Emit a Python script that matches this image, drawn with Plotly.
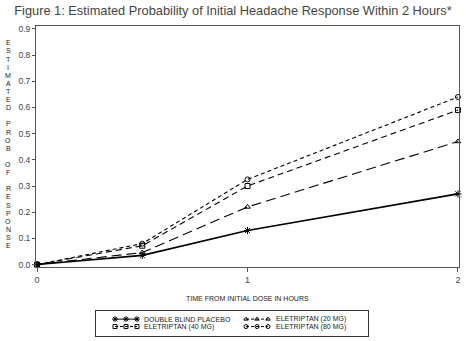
import plotly.graph_objects as go

# Hours after the initial dose and estimated response probability per arm
hours = [0, 0.5, 1, 2]
placebo = [0.0, 0.035, 0.13, 0.27]
ele_20 = [0.0, 0.046, 0.22, 0.47]
ele_40 = [0.0, 0.072, 0.30, 0.59]
ele_80 = [0.0, 0.080, 0.325, 0.64]

series_names = ["DOUBLE BLIND PLACEBO", "ELETRIPTAN (20 MG)",
                "ELETRIPTAN (40 MG)", "ELETRIPTAN (80 MG)"]
series_values = [placebo, ele_20, ele_40, ele_80]

y_tick_vals = [0.0, 0.1, 0.2, 0.3, 0.4, 0.5, 0.6, 0.7, 0.8, 0.9]
x_tick_vals = [0, 1, 2]

title_text = "Figure 1: Estimated Probability of Initial Headache Response Within 2 Hours*"
x_title = "TIME FROM INITIAL DOSE IN HOURS"
y_title = "ESTIMATED PROB OF RESPONSE"

# Line / marker style per arm
styles = [
    dict(dash="solid", width=1.6, symbol="asterisk-open", size=6),
    dict(dash="10px,5px", width=1.1, symbol="triangle-up-open", size=5),
    dict(dash="6px,4px", width=1.1, symbol="square-open", size=5),
    dict(dash="4px,3px", width=1.1, symbol="circle-open", size=5),
]

W, H = 466, 341
ML, MR, MT, MB = 36, 7, 26, 3
PW, PH = W - ML - MR, H - MT - MB
FRAME_BOTTOM = 269
AXIS_COLOR = "#555555"
TEXT_COLOR = "#444444"
SANS = "Liberation Sans, Arial, sans-serif"


def px_x(px):
    return (px - ML) / PW


def px_y(py):
    return (H - MB - py) / PH


fig = go.Figure()

for name, vals, st in zip(series_names, series_values, styles):
    fig.add_trace(go.Scatter(
        x=hours, y=vals, name=name, mode="lines+markers",
        line=dict(color="black", width=st["width"], dash=st["dash"]),
        marker=dict(symbol=st["symbol"], size=st["size"], color="black",
                    line=dict(width=1, color="black")),
        cliponaxis=False, showlegend=False,
    ))

# Legend box drawn on its own pixel-scaled axes below the plot
LEG_L, LEG_R, LEG_T, LEG_B = 96, 368, 313, 338
key_cols = [(115, 137, 142), (246, 268, 274)]
key_rows = [321, 328.5]
positions = [(0, 0), (1, 0), (0, 1), (1, 1)]  # (column, row) for each arm

annotations = []
for name, st, (c, r) in zip(series_names, styles, positions):
    x0, x1, xt = key_cols[c]
    yk = key_rows[r]
    fig.add_trace(go.Scatter(
        x=[x0, (x0 + x1) / 2, x1], y=[yk, yk, yk], mode="lines+markers",
        line=dict(color="black", width=1, dash=st["dash"] if st["dash"] == "solid" else "3px,2px"),
        marker=dict(symbol=st["symbol"], size=st["size"] - 1, color="black",
                    line=dict(width=1, color="black")),
        xaxis="x2", yaxis="y2", showlegend=False, hoverinfo="skip",
    ))
    annotations.append(dict(
        x=xt, y=yk, xref="x2", yref="y2", text=name, showarrow=False,
        xanchor="left", yanchor="middle",
        font=dict(family=SANS, size=7, color="#222222"),
    ))

# Vertical, letter-by-letter y-axis title
letter_top, letter_step = 43, 8.16
for i, ch in enumerate(y_title):
    if ch == " ":
        continue
    annotations.append(dict(
        x=px_x(8), y=px_y(letter_top + i * letter_step), xref="paper", yref="paper",
        text=ch, showarrow=False, xanchor="center", yanchor="middle",
        font=dict(family=SANS, size=7, color="#222222"),
    ))

# x-axis title
annotations.append(dict(
    x=0.5, y=px_y(300), xref="paper", yref="paper", text=x_title,
    showarrow=False, xanchor="center", yanchor="middle",
    font=dict(family=SANS, size=7, color="#222222"),
))

fig.update_layout(
    width=W, height=H,
    margin=dict(l=ML, r=MR, t=MT, b=MB, pad=0),
    paper_bgcolor="white", plot_bgcolor="white",
    title=dict(text=title_text, x=0.5, xref="container", xanchor="center",
               y=1 - 11 / H, yanchor="middle",
               font=dict(family=SANS, size=12.8, color=TEXT_COLOR)),
    xaxis=dict(
        range=[-0.005, 2.005], domain=[0, 1], tickvals=x_tick_vals,
        showgrid=False, zeroline=False, showline=True, mirror=True,
        linecolor=AXIS_COLOR, linewidth=1, ticks="outside", ticklen=4,
        tickcolor=AXIS_COLOR, tickfont=dict(family=SANS, size=9, color=TEXT_COLOR),
        anchor="y",
    ),
    yaxis=dict(
        range=[-0.011, 0.911], domain=[px_y(FRAME_BOTTOM), 1], tickvals=y_tick_vals,
        tickformat=".1f", showgrid=False, zeroline=False, showline=True, mirror=True,
        linecolor=AXIS_COLOR, linewidth=1, ticks="outside", ticklen=3,
        tickcolor=AXIS_COLOR, tickfont=dict(family=SANS, size=8.5, color=TEXT_COLOR),
        anchor="x",
    ),
    xaxis2=dict(
        domain=[px_x(LEG_L), px_x(LEG_R)], range=[LEG_L, LEG_R], anchor="y2",
        showgrid=False, zeroline=False, showticklabels=False, ticks="",
        showline=True, mirror=True, linecolor="#333333", linewidth=1,
    ),
    yaxis2=dict(
        domain=[px_y(LEG_B), px_y(LEG_T)], range=[LEG_B, LEG_T], anchor="x2",
        showgrid=False, zeroline=False, showticklabels=False, ticks="",
        showline=True, mirror=True, linecolor="#333333", linewidth=1,
    ),
    annotations=annotations,
    showlegend=False,
)

fig.write_html("out.html")
